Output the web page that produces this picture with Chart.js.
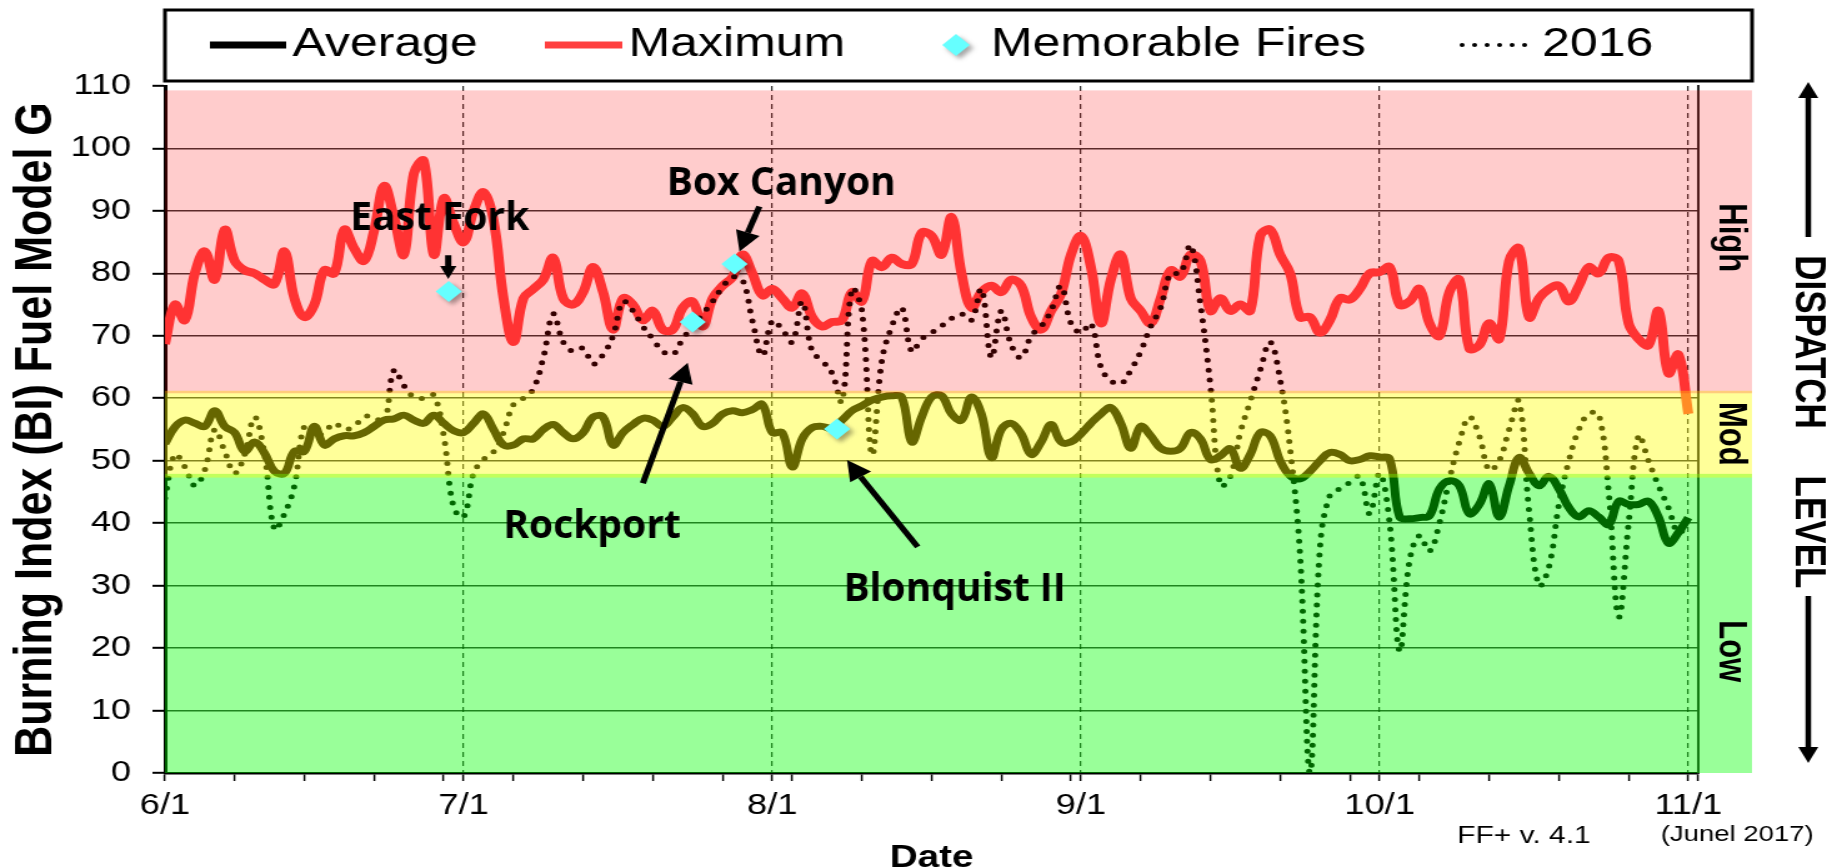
<!DOCTYPE html>
<html>
<head>
<meta charset="utf-8">
<title>Burning Index (BI) Fuel Model G</title>
<script src="https://cdn.jsdelivr.net/npm/chart.js@4.4.1/dist/chart.umd.min.js"></script>
<style>
  html, body { margin: 0; padding: 0; background: #fff; overflow: hidden; }
</style>
</head>
<body>
<!-- drawn at 1462 px wide and stretched to 1827 px, like the original picture -->
<canvas id="chart" width="1462" height="867" style="display:block;width:1827px;height:867px"></canvas>
<script>
// x values are days counted from 6/1 (day 0) to 11/1 (day 153)
const monthLabels = ['6/1', '7/1', '8/1', '9/1', '10/1', '11/1'];
const monthDays = [0, 30, 61, 92, 122, 153];
const weekDays = [0, 7, 14, 21, 28, 35, 42, 49, 56, 63, 70, 77, 84, 91, 98, 105, 112, 119, 126, 133, 140, 147, 154];

const average = [
  52.7, 55.4, 56.5, 56, 55.5, 58, 55.5, 54.5, 51.5, 53,
  51.2, 48.3, 48, 51.5, 51.5, 55.5, 52.5, 53.5, 54, 54,
  54.5, 55.5, 56.5, 56.7, 57.3, 56.5, 56, 57.3, 56, 54.8,
  54.5, 56, 57.5, 55, 52.5, 52.5, 53.5, 53.5, 55, 55.8,
  54.5, 53.5, 54.5, 57, 57, 52.5, 54.5, 55.8, 56.8, 56.5,
  55.5, 57, 58.5, 57.5, 55.5, 56, 57.5, 58, 57.7, 58.2,
  59, 54.5, 54.5, 49, 53.5, 55.3, 55.5, 55.2, 56.5, 58,
  58.8, 59.7, 60.2, 60.4, 60.2, 53, 57, 60.2, 60.4, 57.5,
  56.5, 60.2, 57.5, 50.5, 55, 56, 54.3, 51, 53, 55.8,
  53, 53, 54.3, 56, 57.5, 58.5, 56, 52, 55.5, 54,
  52, 51.5, 52, 54.5, 53.5, 50.2, 50.8, 51.9, 48.8, 51,
  54.5, 54, 50, 47.6, 47.1, 48.3, 50, 51.3, 51, 50,
  50.2, 50.8, 50.6, 50.3, 41, 40.7, 40.9, 41.2, 45.5, 46.8,
  46, 41.5, 43, 46.3, 41, 46, 50.5, 48, 46, 47.5,
  45.5, 42.5, 41, 42, 41, 39.8, 43.5, 43, 43, 43.5,
  41, 36.8, 38.5, 40.9
];

const maximum = [
  68.7, 75, 72.5, 80, 83.5, 79, 87, 82, 80.5, 80,
  79, 78.3, 83.5, 76, 73, 75, 80.5, 80, 87, 84,
  82, 86.8, 94, 89, 83, 96, 98, 83, 92, 88,
  85, 90, 93, 88.5, 76, 69, 76, 77.5, 79, 82.5,
  76, 75, 77, 81, 77, 71, 76, 75, 72.5, 74,
  71, 71, 74.5, 75.5, 71.5, 76, 78, 79.4, 83, 80,
  76.5, 77.5, 76, 74.5, 76.8, 73, 71.5, 72.2, 72.5, 77,
  75.5, 82, 81, 82.5, 81.5, 81.5, 86.5, 86, 83, 89,
  80, 74.5, 77, 78, 77, 79, 78, 73, 71, 74,
  76.7, 83, 86, 81, 72, 79, 83, 76, 74, 72,
  76, 80.5, 79.5, 83, 82, 74, 76, 74, 75, 74,
  86, 87, 83, 80, 73, 73, 70.5, 72.5, 76, 75.8,
  77.5, 80, 80.2, 81, 75, 75.5, 77.5, 72, 70, 77,
  79, 68, 68.5, 72, 69.5, 82, 84, 73, 76, 77.5,
  78, 75.5, 78, 81, 80, 82.5, 82, 72, 69.5, 68.5,
  74, 64, 67, 57.5
];

const year2016 = [
  44, 51, 49, 46, 48.5, 55, 51.5, 48, 51, 57,
  51, 39, 41.5, 46, 55.5, 54, 54.5, 56, 55, 55.5,
  57, 57, 56, 64.5, 62, 60.2, 60, 60.5, 54, 42.5,
  41, 48, 50.2, 51.4, 54.5, 59, 60, 61.5, 66.5, 73.5,
  69, 67.5, 68, 65.5, 67, 70, 75.5, 74, 71.5, 69.5,
  67.5, 67, 69.5, 71.5, 73.5, 75.5, 77.8, 79.4, 79, 72.4,
  66.8, 72.4, 71, 69, 75.5, 67.5, 66, 64, 59.5, 77.5,
  74, 51, 66, 71.5, 74.5, 67.5, 69.5, 70.5, 71.6, 72.8,
  73.5, 72.5, 77.5, 66.5, 74, 68.5, 66.5, 70, 71.5, 74,
  78, 72, 70.5, 72, 65, 62.8, 62.3, 64.5, 67.5, 71.5,
  74.5, 80, 80, 84.5, 75, 62, 46, 47.5, 54.5, 59.5,
  64.5, 69, 63, 52, 35, 0, 36, 44.5, 45.5, 46.5,
  47.5, 41.5, 48, 40, 19.5, 34, 38, 35.5, 40, 47,
  53, 57, 54, 48.5, 50, 55, 59.5, 42, 30, 33,
  43, 50, 55, 57.5, 57.5, 45, 25, 40, 54, 50,
  46, 42.5, 38.5, 40
];

const fireNames = ['East Fork', 'Rockport', 'Box Canyon', 'Blonquist II'];
const fireDays = [28.5, 53, 57.2, 67.5];
const fireBI = [77.1, 72.2, 81.5, 55.1];

// dispatch levels
const levelNames = ['Low', 'Mod', 'High'];
const levelFrom = [0, 47.3, 60.8];
const levelTo = [47.9, 61.2, 109.3];

const FONT = "'Liberation Sans', Arial, sans-serif";
const NOTE_FONT = "'Open Sans', 'Liberation Sans', sans-serif";
const FIRES = 2;

const tickDays = [...new Set(weekDays.concat(monthDays))].sort((a, b) => a - b);
const series = (arr) => arr.map((v, i) => ({ x: i, y: v }));

// translucent bands laid over the lines, as in the original
const bandColors = ['rgba(0,255,0,0.4)', 'rgba(255,255,0,0.4)', 'rgba(255,0,0,0.2)'];
const levelLabelAt = [19.5, 54.3, 85.7];

// where the fire names and their arrows sit, in (day, BI)
const notes = [
  { at: [27.6, 86.9], from: [28.45, 82.9], to: [28.45, 79.1], head: 13 },
  { at: [42.9, 37.6], from: [48.0, 46.4], to: [52.5, 65.7], head: 20 },
  { at: [61.9, 92.6], from: [59.7, 90.7], to: [57.7, 83.5], head: 20 },
  { at: [79.3, 27.5], from: [75.6, 36.2], to: [68.5, 50.1], head: 20 }
];

function drawBands(chart) {
  const { ctx, chartArea, scales: { y } } = chart;
  const right = chartArea.right + 43;
  ctx.save();
  levelNames.forEach((name, i) => {
    const top = y.getPixelForValue(levelTo[i]);
    const bottom = y.getPixelForValue(levelFrom[i]);
    ctx.fillStyle = bandColors[i];
    ctx.fillRect(chartArea.left, top, right - chartArea.left, bottom - top);
  });
  ctx.restore();
}

function arrow(ctx, x1, y1, x2, y2, width, head) {
  const a = Math.atan2(y2 - y1, x2 - x1);
  const bx = x2 - head * Math.cos(a), by = y2 - head * Math.sin(a);
  const hw = head * 0.5;
  ctx.lineWidth = width;
  ctx.beginPath();
  ctx.moveTo(x1, y1);
  ctx.lineTo(bx, by);
  ctx.stroke();
  ctx.beginPath();
  ctx.moveTo(x2, y2);
  ctx.lineTo(bx + hw * Math.sin(a), by - hw * Math.cos(a));
  ctx.lineTo(bx - hw * Math.sin(a), by + hw * Math.cos(a));
  ctx.closePath();
  ctx.fill();
}

function drawLegend(chart) {
  const { ctx, chartArea } = chart;
  const left = chartArea.left, right = chartArea.right + 43, top = 10, bottom = 81, mid = 45;
  const sampleX = [168, 436, 754, 1170];
  const sampleW = [61, 62, 22, 56];
  const textGap = [5, 5, 17, 8];
  ctx.save();
  ctx.fillStyle = '#fff';
  ctx.fillRect(left, top, right - left, bottom - top);
  ctx.strokeStyle = '#000';
  ctx.lineWidth = 3;
  ctx.strokeRect(left, top, right - left, bottom - top);
  ctx.font = '40px ' + FONT;
  ctx.textBaseline = 'middle';
  ctx.textAlign = 'left';
  chart.data.datasets.forEach((ds, i) => {
    const x = sampleX[i], w = sampleW[i];
    ctx.save();
    if (ds.showLine === false) {
      ctx.shadowColor = 'rgba(0,0,0,0.35)';
      ctx.shadowBlur = 4; ctx.shadowOffsetX = 3; ctx.shadowOffsetY = 3;
      ctx.fillStyle = ds.backgroundColor;
      ctx.beginPath();
      ctx.moveTo(x + w / 2, mid - 11);
      ctx.lineTo(x + w, mid);
      ctx.lineTo(x + w / 2, mid + 11);
      ctx.lineTo(x, mid);
      ctx.closePath();
      ctx.fill();
    } else {
      ctx.strokeStyle = ds.borderColor;
      ctx.lineWidth = ds.borderDash ? 4 : 7;
      ctx.setLineDash(ds.borderDash || []);
      ctx.lineCap = ds.borderDash ? 'round' : 'butt';
      ctx.beginPath();
      ctx.moveTo(x, mid);
      ctx.lineTo(x + w, mid);
      ctx.stroke();
    }
    ctx.restore();
    ctx.fillStyle = '#000';
    ctx.fillText(ds.label, x + w + textGap[i], mid);
  });
  ctx.restore();
}

function drawSide(chart) {
  const { ctx, chartArea, scales: { x, y } } = chart;
  ctx.save();
  ctx.fillStyle = '#000';
  ctx.strokeStyle = '#000';

  // level names inside the bands
  ctx.font = 'bold 31px ' + FONT;
  ctx.textAlign = 'center';
  ctx.textBaseline = 'middle';
  levelNames.forEach((name, i) => {
    ctx.save();
    ctx.translate(chartArea.right + 26, y.getPixelForValue(levelLabelAt[i]));
    ctx.rotate(Math.PI / 2);
    ctx.fillText(name, 0, 0);
    ctx.restore();
  });

  // DISPATCH LEVEL with its arrows
  const dx = chartArea.right + 88;
  ctx.font = 'bold 35px ' + FONT;
  [['DISPATCH', 342], ['LEVEL', 532]].forEach(([t, cy]) => {
    ctx.save();
    ctx.translate(dx, cy);
    ctx.rotate(Math.PI / 2);
    ctx.fillText(t, 0, 0);
    ctx.restore();
  });
  arrow(ctx, dx, 237, dx, 82, 4.5, 16);
  arrow(ctx, dx, 596, dx, 763, 4.5, 16);

  // fire names and arrows
  notes.forEach((n, i) => {
    arrow(ctx, x.getPixelForValue(n.from[0]), y.getPixelForValue(n.from[1]),
      x.getPixelForValue(n.to[0]), y.getPixelForValue(n.to[1]), 5, n.head);
    ctx.save();
    ctx.font = 'bold 40px ' + NOTE_FONT;
    ctx.textAlign = 'center';
    ctx.textBaseline = 'alphabetic';
    ctx.translate(x.getPixelForValue(n.at[0]), y.getPixelForValue(n.at[1]));
    ctx.scale(0.78, 1);
    ctx.fillText(fireNames[i], 0, 0);
    ctx.restore();
  });

  // footer
  ctx.textAlign = 'left';
  ctx.textBaseline = 'alphabetic';
  ctx.font = '24px ' + FONT;
  ctx.fillText('FF+ v. 4.1', 1166, 843);
  ctx.font = '22px ' + FONT;
  ctx.fillText('(Junel 2017)', 1329, 841);
  ctx.restore();
}

const decorations = {
  id: 'decorations',
  beforeDatasetDraw(chart, args) {
    if (args.index !== FIRES) return;
    drawBands(chart);
    const ctx = chart.ctx;
    ctx.shadowColor = 'rgba(0,0,0,0.35)';
    ctx.shadowBlur = 4; ctx.shadowOffsetX = 3; ctx.shadowOffsetY = 3;
  },
  afterDatasetDraw(chart, args) {
    if (args.index !== FIRES) return;
    const ctx = chart.ctx;
    ctx.shadowColor = 'rgba(0,0,0,0)';
    ctx.shadowBlur = 0; ctx.shadowOffsetX = 0; ctx.shadowOffsetY = 0;
  },
  afterDraw(chart) {
    drawLegend(chart);
    drawSide(chart);
  }
};

Chart.defaults.font.family = FONT;
Chart.defaults.color = '#000';

new Chart(document.getElementById('chart'), {
  type: 'line',
  data: {
    datasets: [
      {
        label: 'Average',
        data: series(average),
        borderColor: '#000',
        borderWidth: 7,
        pointRadius: 0,
        tension: 0.4,
        order: 2
      },
      {
        label: 'Maximum',
        data: series(maximum),
        borderColor: '#ff4040',
        borderWidth: 8,
        pointRadius: 0,
        tension: 0.4,
        order: 3
      },
      {
        label: 'Memorable Fires',
        data: fireDays.map((d, i) => ({ x: d, y: fireBI[i] })),
        showLine: false,
        pointStyle: 'rectRot',
        pointRadius: 10.5,
        backgroundColor: '#66ffff',
        borderColor: '#66ffff',
        borderWidth: 0,
        order: 0
      },
      {
        label: '2016',
        data: series(year2016),
        borderColor: '#000',
        borderWidth: 5,
        borderDash: [0, 10],
        borderCapStyle: 'round',
        pointRadius: 0,
        tension: 0.4,
        order: 1
      }
    ]
  },
  options: {
    responsive: false,
    devicePixelRatio: 1,
    animation: false,
    events: [],
    layout: { padding: { top: 86 } },
    plugins: {
      legend: { display: false },
      tooltip: { enabled: false }
    },
    scales: {
      x: {
        type: 'linear',
        min: 0,
        max: 154,
        afterBuildTicks: (scale) => { scale.ticks = tickDays.map(v => ({ value: v })); },
        afterFit: (scale) => { scale.height = 94; },
        ticks: {
          autoSkip: false,
          maxRotation: 0,
          padding: 8,
          color: '#000',
          font: { size: 29 },
          callback: (v) => {
            const i = monthDays.indexOf(v);
            return i >= 0 ? monthLabels[i] : '';
          }
        },
        grid: {
          color: (c) => (c.tick && c.tick.value > 0 && monthDays.includes(c.tick.value)) ? 'rgba(0,0,0,0.85)' : 'rgba(0,0,0,0)',
          lineWidth: 1.2,
          tickColor: '#000',
          tickLength: 8,
          tickWidth: 1.5
        },
        border: { display: true, color: '#000', width: 2.5, dash: [5, 4] },
        title: {
          display: true,
          text: 'Date',
          color: '#000',
          font: { size: 31, weight: 'bold' },
          padding: { top: 0, bottom: -10 }
        }
      },
      y: {
        min: 0,
        max: 110,
        afterFit: (scale) => { scale.width = 132; },
        ticks: {
          stepSize: 5,
          padding: 17,
          color: '#000',
          font: { size: 29 },
          callback: (v) => (v % 10 === 0 ? v : '')
        },
        grid: {
          color: (c) => (c.tick && c.tick.value % 10 === 0 && c.tick.value > 0 && c.tick.value < 110) ? 'rgba(0,0,0,0.8)' : 'rgba(0,0,0,0)',
          lineWidth: 1.6,
          tickColor: '#000',
          tickLength: 10,
          tickWidth: 2
        },
        border: { color: '#000', width: 3 },
        title: {
          display: true,
          text: 'Burning Index (BI) Fuel Model G',
          color: '#000',
          font: { size: 43, weight: 'bold' },
          padding: { top: 3, bottom: 0 }
        }
      },
      y2: {
        position: 'right',
        min: 0,
        max: 110,
        afterFit: (scale) => { scale.width = 103; },
        ticks: { display: false },
        grid: { drawOnChartArea: false, drawTicks: false },
        border: { color: '#222', width: 2 }
      }
    }
  },
  plugins: [decorations]
});
</script>
</body>
</html>
